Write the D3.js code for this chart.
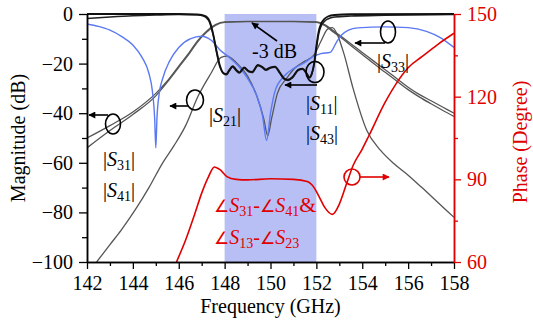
<!DOCTYPE html>
<html lang="en">
<head>
  <meta charset="UTF-8" />
  <title>Filtering coupler response</title>
  <script src="https://d3js.org/d3.v7.js"></script>
  <style>
    body { margin: 0; background: #fff; }
    text { font-family: "Liberation Serif", "Times New Roman", serif; }
  </style>
</head>
<body>
  <svg></svg>
<script>

  // axis ticks
  const freqTicks = [142, 144, 146, 148, 150, 152, 154, 156, 158];
  const magTicks = [0, -20, -40, -60, -80, -100];
  const phaseTicks = [60, 90, 120, 150];
  const passband = [148, 152];

  // curves: [frequency GHz, value]
  const s11 = [[142,0],[144,0],[146,0],[146.8,-0.2],[147.0,-0.4],[147.2,-1],[147.35,-3],[147.5,-8],
    [147.65,-15],[147.8,-21],[147.95,-23.8],[148.08,-24.2],[148.2,-22.6],[148.35,-21],[148.5,-22.4],
    [148.65,-23.5],[148.85,-21.5],[149.05,-23],[149.2,-23.3],[149.45,-20.5],[149.65,-21.4],
    [149.8,-22.4],[150.0,-21.5],[150.2,-21.2],[150.4,-23.5],[150.6,-26],[150.75,-26.5],[150.95,-25.5],
    [151.2,-22.5],[151.4,-22],[151.55,-23.5],[151.7,-25.5],[151.8,-24],[151.9,-20],[152.0,-13],
    [152.1,-7],[152.2,-4],[152.35,-2],[152.5,-1],[152.8,-0.4],[153.5,-0.1],[158,0]];
  const s43 = [[142,-1.8],[143,-1.2],[144,-0.7],[145,-0.4],[146,-0.2],[146.8,-0.3],[147.0,-0.6],
    [147.2,-1.5],[147.35,-3.5],[147.5,-8.5],[147.65,-15.5],[147.8,-21.5],[147.95,-24],[148.08,-24.5],
    [148.2,-23],[148.35,-21.4],[148.5,-22.8],[148.65,-23.8],[148.85,-21.8],[149.05,-23.3],[149.2,-23.6],
    [149.45,-20.8],[149.65,-21.7],[149.8,-22.7],[150.0,-21.8],[150.2,-21.5],[150.4,-23.8],[150.6,-26.3],
    [150.75,-26.8],[150.95,-25.8],[151.2,-22.8],[151.4,-22.3],[151.55,-23.8],[151.7,-25.8],[151.8,-24.3],
    [151.9,-20.5],[152.0,-14],[152.1,-8],[152.2,-5],[152.35,-3],[152.5,-2],[152.8,-1.2],[153.5,-0.8],
    [155,-0.5],[158,-0.2]];
  const s31 = [[142,-50],[143,-45],[144,-39.5],[145,-32],[145.5,-27],[146,-21],[146.5,-15],
    [146.8,-11],[147.2,-7],[147.6,-4.3],[148,-3.2],[149,-3],[150,-3],[151,-3],[152,-3.2],[152.4,-4.5],
    [152.7,-6.5],[153,-8.5],[153.5,-12],[154,-15.5],[154.5,-19],[155,-22.5],[155.5,-26],[156,-29.5],
    [156.5,-32.5],[157,-35],[157.5,-37.5],[158,-40]];
  const s41 = [[142,-54],[143,-47],[144,-40.5],[145,-33],[145.5,-27.5],[146,-21.5],[146.5,-15.5],
    [146.8,-11.5],[147.2,-7.5],[147.6,-4.6],[148,-3.4],[149,-3.1],[150,-3.1],[151,-3.1],[152,-3.4],
    [152.4,-4.8],[152.7,-7],[153,-9],[153.5,-12.7],[154,-16.3],[154.5,-20],[155,-23.5],[155.5,-27],
    [156,-30.5],[156.5,-33.5],[157,-36.2],[157.5,-38.8],[158,-41.3]];
  const s21 = [[142.42,-100],[143,-93],[143.5,-87],[144.1,-79],[144.7,-70],[145.3,-60],[145.8,-53],
    [146.3,-45],[146.85,-33],[147.4,-24],[147.85,-17.5],[148.1,-17],[148.5,-19.5],[149,-25],
    [149.4,-33],[149.7,-42],[149.88,-49],[150.05,-42],[150.3,-32],[150.7,-26],[151.1,-21.5],
    [151.5,-19],[151.9,-16.5],[152.2,-11],[152.5,-6],[152.7,-5.5],[152.9,-8],[153.2,-16],
    [153.6,-30],[154.2,-47],[154.8,-55],[155.4,-60.5],[156,-65],[156.6,-70],[157.3,-76],[158,-82]];
  const s33 = [[142,-4],[142.5,-5],[143,-6.5],[143.5,-9],[144,-12.5],[144.4,-17.5],[144.7,-24],
    [144.85,-31],[144.95,-42],[145.0,-54],[145.05,-42],[145.15,-32],[145.3,-26],[145.6,-19],
    [146,-13.5],[146.5,-10],[147,-9],[147.4,-10.5],[147.8,-14.5],[148.2,-17.5],[148.6,-21],
    [149.0,-26],[149.4,-33],[149.65,-41],[149.83,-51],[150.0,-40],[150.2,-31],[150.6,-25],
    [151.0,-22],[151.5,-19.5],[151.9,-17],[152.2,-16],[152.6,-15.5],[152.9,-11],[153.1,-8.5],
    [153.4,-6.5],[153.8,-5.6],[155,-5.2],[156,-5.5],[156.8,-7],[157.4,-9.5],[158,-13.5]];
  const phase = [[145.9,60],[146.3,68],[146.7,77.5],[147.0,85],[147.3,91],[147.55,94.5],[147.8,93.5],
    [148.1,91],[148.5,90],[149.0,89.8],[150.0,90.2],[151.0,90],[151.6,89.2],[151.9,87],[152.1,84],
    [152.35,80],[152.7,77.3],[153.0,81],[153.3,88],[153.6,95],[154.0,101],[154.3,106],[155.0,118],
    [155.5,125],[156.0,130.5],[156.6,134.5],[157.3,139],[158.0,143]];

  const width = 533, height = 320;
  const m = { left: 87, right: 454, top: 14, bottom: 262 };
  const blue = '#5b79f2', red = '#e00000', grey = '#555';

  const svg = d3.select('svg').attr('width', width).attr('height', height);

  const x = d3.scaleLinear().domain([142, 158]).range([m.left, m.right]);
  const y = d3.scaleLinear().domain([-100, 0]).range([m.bottom, m.top]);
  const yP = d3.scaleLinear().domain([60, 150]).range([m.bottom, m.top]);

  svg.append('clipPath').attr('id', 'clip').append('rect')
    .attr('x', m.left).attr('y', m.top - 2)
    .attr('width', m.right - m.left).attr('height', m.bottom - m.top + 2);

  // passband shading
  svg.append('rect')
    .attr('x', x(passband[0])).attr('y', y(0))
    .attr('width', x(passband[1]) - x(passband[0]))
    .attr('height', y(-100) - y(0))
    .style('fill', '#b7bff5');

  const line = d3.line().x(d => x(d[0])).y(d => y(d[1])).curve(d3.curveMonotoneX);
  const lineP = d3.line().x(d => x(d[0])).y(d => yP(d[1])).curve(d3.curveMonotoneX);

  const g = svg.append('g').attr('clip-path', 'url(#clip)');
  [[s31, grey, 1.3], [s41, grey, 1.3], [s21, grey, 1.3], [s33, blue, 1.4],
   [s43, '#222', 1.6], [s11, '#111', 1.8]].forEach(([d, c, w]) => {
    g.append('path').datum(d).attr('d', line)
      .style('fill', 'none').style('stroke', c).style('stroke-width', w);
  });
  g.append('path').datum(phase).attr('d', lineP)
    .style('fill', 'none').style('stroke', red).style('stroke-width', 1.6);

  // axes
  function styleAxis(sel, color) {
    sel.select('.domain').style('stroke', color).style('stroke-width', 1.5);
    sel.selectAll('.tick line').style('stroke', color).style('stroke-width', 1.3);
    sel.selectAll('text').style('fill', color).style('font-size', '20px')
      .style('font-family', '"Liberation Serif", serif');
  }

  const xMinor = svg.append('g').attr('transform', `translate(0,${m.bottom})`)
    .call(d3.axisBottom(x).tickValues(d3.range(143, 158, 2)).tickSize(4).tickFormat('').tickSizeOuter(0));
  styleAxis(xMinor, '#000');
  const xAx = svg.append('g').attr('transform', `translate(0,${m.bottom})`)
    .call(d3.axisBottom(x).tickValues(freqTicks).tickSize(7).tickPadding(7).tickSizeOuter(0));
  styleAxis(xAx, '#000');

  const yMinor = svg.append('g').attr('transform', `translate(${m.left},0)`)
    .call(d3.axisLeft(y).tickValues(d3.range(-90, 0, 20)).tickSize(5).tickFormat('').tickSizeOuter(0));
  styleAxis(yMinor, '#000');
  const yAx = svg.append('g').attr('transform', `translate(${m.left},0)`)
    .call(d3.axisLeft(y).tickValues(magTicks).tickSize(8).tickPadding(6).tickSizeOuter(0));
  styleAxis(yAx, '#000');

  const pMinor = svg.append('g').attr('transform', `translate(${m.right},0)`)
    .call(d3.axisRight(yP).tickValues([75, 105, 135]).tickSize(4).tickFormat('').tickSizeOuter(0));
  styleAxis(pMinor, red);
  const pAx = svg.append('g').attr('transform', `translate(${m.right},0)`)
    .call(d3.axisRight(yP).tickValues(phaseTicks).tickSize(7).tickPadding(6).tickSizeOuter(0));
  styleAxis(pAx, red);

  // axis titles
  svg.append('text').attr('x', (m.left + m.right) / 2).attr('y', 313)
    .attr('text-anchor', 'middle').style('font-size', '20px').text('Frequency (GHz)');
  svg.append('text').attr('transform', 'translate(25,138) rotate(-90)')
    .attr('text-anchor', 'middle').style('font-size', '20px').text('Magnitude (dB)');
  svg.append('text').attr('transform', 'translate(527,142) rotate(-90)')
    .attr('text-anchor', 'middle').style('font-size', '20px').style('fill', red).text('Phase (Degree)');

  // arrows
  const defs = svg.append('defs');
  [['ahBlack', '#000'], ['ahRed', red]].forEach(([id, c]) => {
    defs.append('marker').attr('id', id).attr('viewBox', '0 0 10 10')
      .attr('refX', 9).attr('refY', 5).attr('markerWidth', 9).attr('markerHeight', 7)
      .attr('markerUnits', 'userSpaceOnUse').attr('orient', 'auto')
      .append('path').attr('d', 'M0,0L10,5L0,10z').style('fill', c);
  });

  function callout(cx, cy, rx, ry, x1, y1, x2, y2, color) {
    svg.append('ellipse').attr('cx', cx).attr('cy', cy).attr('rx', rx).attr('ry', ry)
      .style('fill', 'none').style('stroke', color).style('stroke-width', 1.6);
    svg.append('line').attr('x1', x1).attr('y1', y1).attr('x2', x2).attr('y2', y2)
      .style('stroke', color).style('stroke-width', 1.6)
      .attr('marker-end', color === red ? 'url(#ahRed)' : 'url(#ahBlack)');
  }
  callout(113, 124, 7.5, 10, 108, 115, 89, 115, '#000');
  callout(195, 100, 8.5, 10, 188, 106, 170, 106, '#000');
  callout(315, 72, 9, 10.5, 317, 85, 285, 85, '#000');
  callout(388, 32, 7.5, 11, 385, 43, 355, 43, '#000');
  callout(352, 177, 8, 8, 360, 177, 389, 177, red);

  svg.append('line').attr('x1', 277).attr('y1', 41).attr('x2', 252).attr('y2', 23)
    .style('stroke', '#000').style('stroke-width', 1.6).attr('marker-end', 'url(#ahBlack)');
  svg.append('text').attr('x', 252).attr('y', 58).style('font-size', '20px').text('-3 dB');

  // |Sxy| labels
  function sLabel(px, py, sub, color) {
    const t = svg.append('text').attr('x', px).attr('y', py)
      .style('font-size', '20px').style('fill', color || '#000');
    t.append('tspan').text('|');
    t.append('tspan').style('font-style', 'italic').text('S');
    t.append('tspan').attr('dy', 4).style('font-size', '14px').text(sub);
    t.append('tspan').attr('dy', -4).text('|');
  }
  sLabel(103, 166, '31');
  sLabel(103, 197, '41');
  sLabel(209, 122, '21');
  sLabel(306, 110, '11');
  sLabel(306, 140, '43');
  sLabel(377, 68, '33');

  function angLabel(px, py, a, b, tail) {
    const t = svg.append('text').attr('x', px).attr('y', py)
      .style('font-size', '20px').style('fill', red);
    t.append('tspan').style('font-family', '"DejaVu Sans"').style('font-size', '17px').text('\u2220');
    t.append('tspan').style('font-style', 'italic').text('S');
    t.append('tspan').attr('dy', 4).style('font-size', '14px').text(a);
    t.append('tspan').attr('dy', -4).text('-');
    t.append('tspan').style('font-family', '"DejaVu Sans"').style('font-size', '17px').text('\u2220');
    t.append('tspan').style('font-style', 'italic').text('S');
    t.append('tspan').attr('dy', 4).style('font-size', '14px').text(b);
    if (tail) t.append('tspan').attr('dy', -4).style('font-size', '22px').text(tail);
  }
  angLabel(214, 212, '31', '41', '&');
  angLabel(214, 244, '13', '23');

</script>
</body>
</html>
